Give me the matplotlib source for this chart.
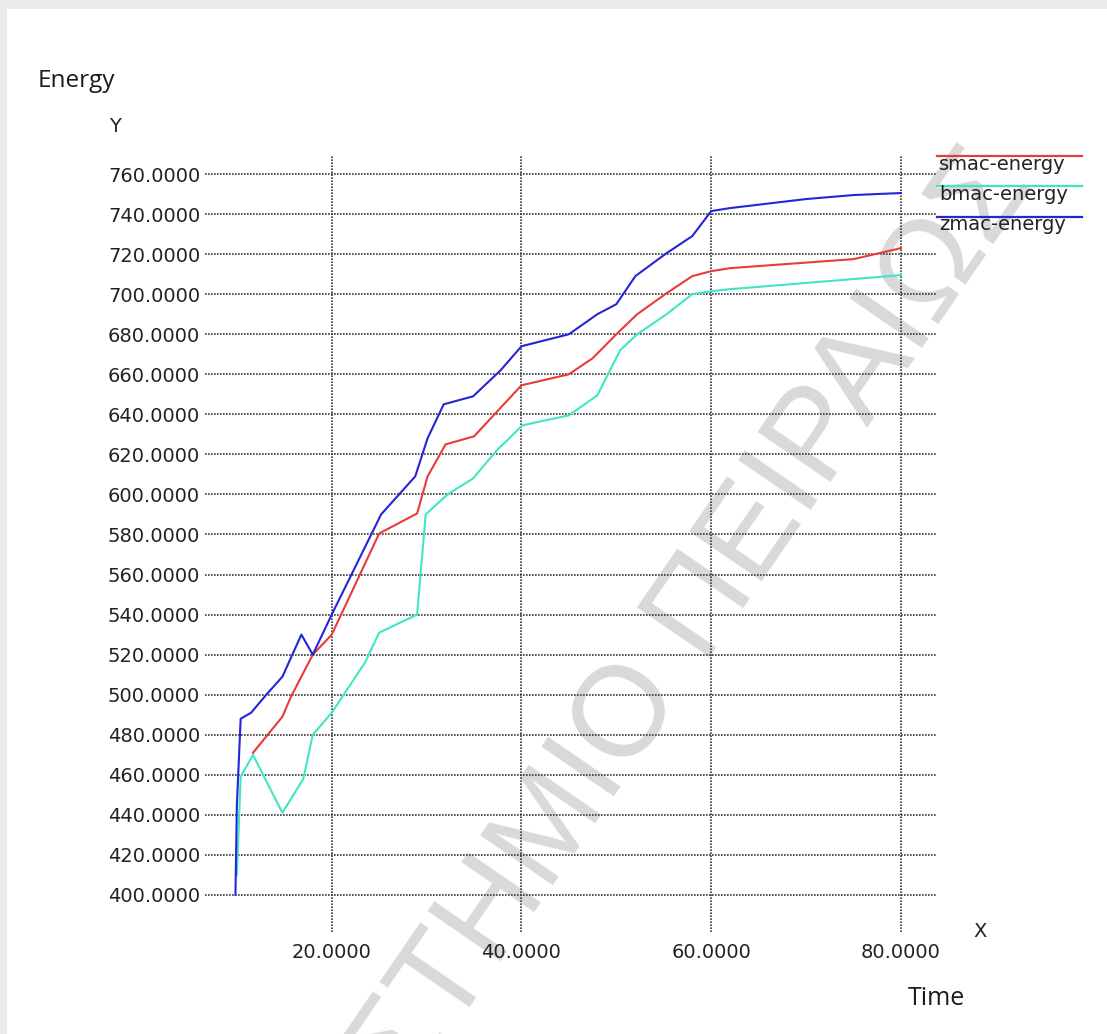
import matplotlib
matplotlib.use("Agg")
import matplotlib.pyplot as plt
from matplotlib.lines import Line2D
from matplotlib.patches import Rectangle

# ---- data -------------------------------------------------------------
series_names = ["smac-energy", "bmac-energy", "zmac-energy"]
series_colors = ["#e83b3b", "#40e6c4", "#2424d8"]

smac_time = [11.7, 14.8, 15.7, 18.0, 20.0, 25.0, 29.0, 30.1, 32.0, 35.0,
             40.0, 45.0, 47.5, 50.0, 52.2, 55.3, 58.0, 60.0, 62.0, 75.0, 80.0]
smac_energy = [471, 489, 499, 520, 530, 580.5, 590.5, 609, 625, 629,
               654.5, 660, 668, 680, 690, 700.5, 709, 711.5, 713, 717.5, 723]

bmac_time = [10.0, 10.4, 11.7, 14.8, 17.0, 18.0, 20.0, 23.5, 25.0, 29.0,
             29.9, 32.2, 34.9, 37.4, 40.1, 45.0, 48.0, 50.4, 52.2, 55.3,
             58.0, 60.0, 62.0, 80.0]
bmac_energy = [410, 459, 470, 441, 458, 480, 491, 516, 531, 540,
               590, 600, 608, 622, 634.5, 639.5, 649.5, 672, 680, 690,
               700, 701.5, 702.5, 709.5]

zmac_time = [9.85, 10.0, 10.4, 11.5, 13.1, 14.8, 16.8, 18.0, 20.0, 25.2,
             28.8, 30.1, 31.8, 34.9, 37.8, 40.0, 45.0, 48.0, 50.0, 52.0,
             55.3, 58.0, 60.0, 62.0, 70.0, 75.0, 80.0]
zmac_energy = [400, 445, 488, 491, 500, 509, 530, 520, 540, 590,
               609, 628, 645, 649, 662, 674, 680, 690, 695, 709,
               720.5, 729, 741.5, 743, 747.5, 749.5, 750.5]

x_ticks = [20, 40, 60, 80]
y_ticks = list(range(400, 761, 20))

# ---- figure -----------------------------------------------------------
W, H = 1107, 1034
fig = plt.figure(figsize=(W / 100, H / 100), dpi=100)
fig.patch.set_facecolor("#ebebeb")
fig.add_artist(Rectangle((7 / W, 0), 1, (H - 9) / H, transform=fig.transFigure,
                         facecolor="white", edgecolor="none", zorder=-10))

# watermark
fig.text(1035 / W, 1 - 184 / H, "ΠΑΝΕΠΙΣΤΗΜΙΟ ΠΕΙΡΑΙΩΣ", family="Liberation Sans",
         fontsize=92, color="#d9d9d9", rotation=55.5, rotation_mode="anchor",
         ha="right", va="baseline", zorder=-5)

ax = fig.add_axes([205 / W, 1 - 932 / H, (937 - 205) / W, (932 - 155) / H])
ax.set_facecolor("none")
for s in ax.spines.values():
    s.set_visible(False)
ax.set_xlim(6.64, 83.8)
ax.set_ylim(381.5, 769.5)
ax.set_xticks(x_ticks)
ax.set_yticks(y_ticks)
ax.set_xticklabels([f"{v:.4f}" for v in x_ticks])
ax.set_yticklabels([f"{v:.4f}" for v in y_ticks])
ax.tick_params(axis="both", length=0, labelsize=14, colors="#222222")
ax.tick_params(axis="x", pad=8)
ax.tick_params(axis="y", pad=3.5)
ax.grid(True, color="#3a3a3a", linestyle=(0, (1, 0.8)), linewidth=1.2)
ax.set_axisbelow(True)

series = [(smac_time, smac_energy), (bmac_time, bmac_energy), (zmac_time, zmac_energy)]
zorders = [3, 2, 4]
for (t, e), c, z in zip(series, series_colors, zorders):
    ax.plot(t, e, color=c, linewidth=1.5, zorder=z)

# legend entries: colour bar above each name
for i, (name, c) in enumerate(zip(series_names, series_colors)):
    yl = 156 + 30.3 * i
    fig.add_artist(Line2D([937 / W, 1082 / W], [1 - yl / H] * 2, color=c,
                          linewidth=1.6, transform=fig.transFigure))
    fig.text(939 / W, 1 - (yl + 13.6) / H, name, fontsize=14, color="#222222",
             va="baseline", ha="left")

# axis titles
fig.text(38 / W, 1 - 87 / H, "Energy", family="Open Sans", fontsize=17.5,
         color="#1a1a1a", va="baseline")
fig.text(114.5 / W, 1 - 132 / H, "Y", fontsize=14, color="#222222",
         va="baseline", ha="center")
fig.text(980 / W, 1 - 937 / H, "X", fontsize=14, color="#222222",
         va="baseline", ha="center")
fig.text(908 / W, 1 - 1005 / H, "Time", family="Open Sans", fontsize=18,
         color="#1a1a1a", va="baseline")

fig.savefig("out.png", dpi=100, facecolor=fig.get_facecolor())
